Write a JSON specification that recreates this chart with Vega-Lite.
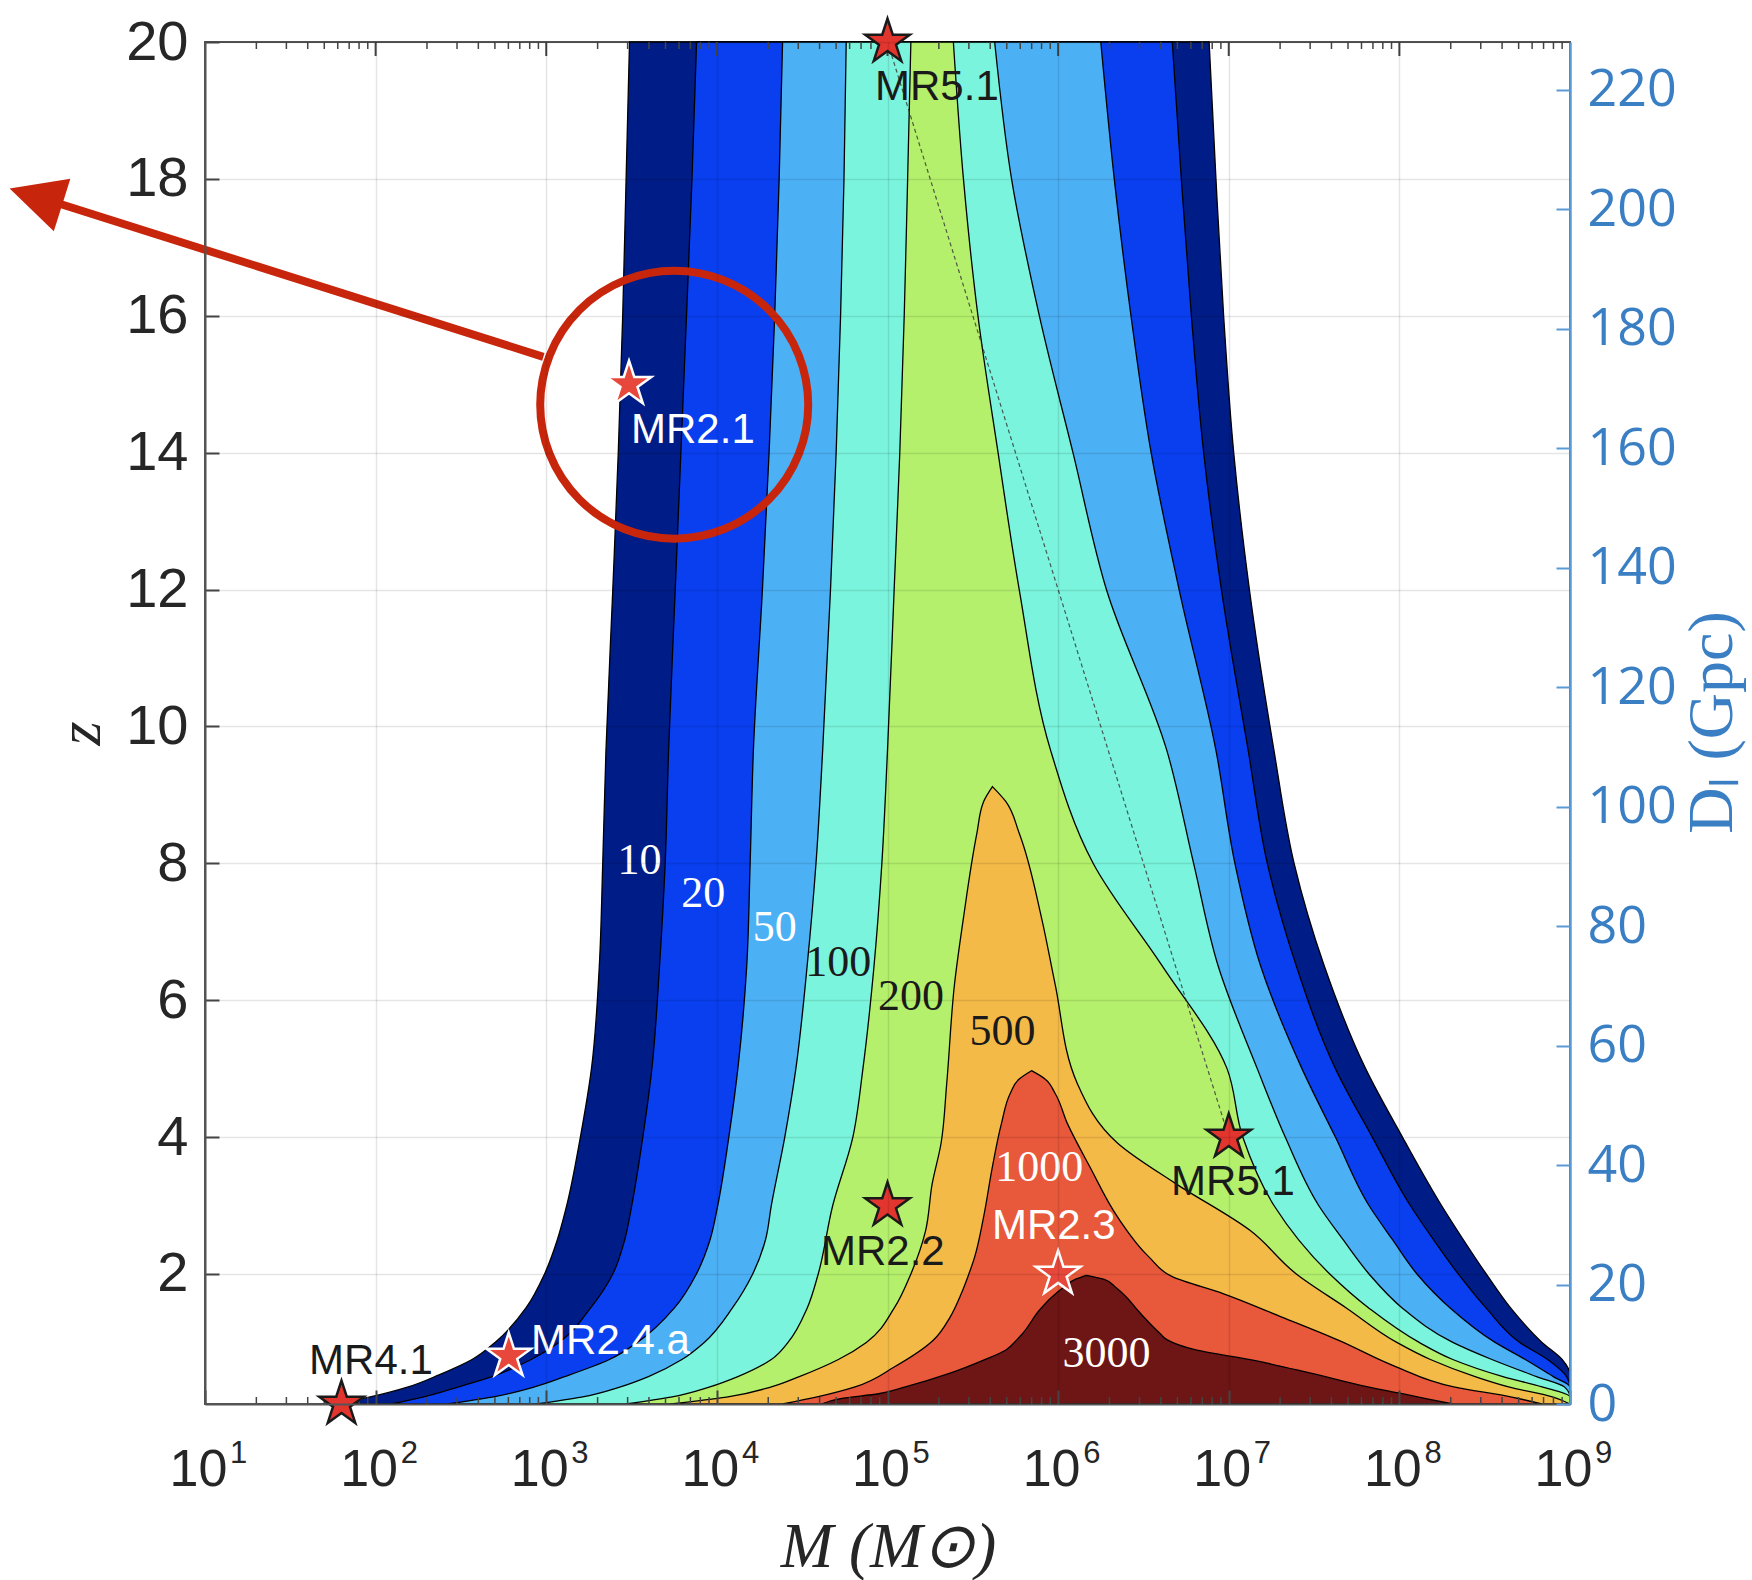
{
"$schema":"https://vega.github.io/schema/vega-lite/v6.json",
"width":1365,"height":1362,
"autosize":{"type":"none"},
"padding":{"left":205,"top":42,"right":182,"bottom":176},
"background":"#ffffff",
"config":{"font":"Liberation Sans","view":{"stroke":"#555555","strokeWidth":2}},
"datasets":{
"c10":[{"z":0.1,"lm":1.766,"lm2":9},{"z":0.2,"lm":1.962,"lm2":9},{"z":0.35,"lm":2.191,"lm2":9},{"z":0.53,"lm":2.375,"lm2":9},{"z":0.75,"lm":2.565,"lm2":8.954},{"z":1,"lm":2.70,"lm2":8.836},{"z":1.5,"lm":2.88,"lm2":8.653},{"z":2,"lm":2.99,"lm2":8.509},{"z":2.5,"lm":3.065,"lm2":8.375},{"z":3,"lm":3.12,"lm2":8.247},{"z":4,"lm":3.20,"lm2":8.018},{"z":5,"lm":3.265,"lm2":7.802},{"z":6.5,"lm":3.311,"lm2":7.560},{"z":8,"lm":3.331,"lm2":7.383},{"z":9.65,"lm":3.350,"lm2":7.265},{"z":12,"lm":3.390,"lm2":7.121},{"z":14,"lm":3.422,"lm2":7.029},{"z":16,"lm":3.448,"lm2":6.970},{"z":18,"lm":3.468,"lm2":6.925},{"z":20,"lm":3.488,"lm2":6.885}],
"c20":[{"z":0.1,"lm":2.093,"lm2":9},{"z":0.2,"lm":2.277,"lm2":9},{"z":0.35,"lm":2.486,"lm2":9},{"z":0.5,"lm":2.682,"lm2":8.980},{"z":0.75,"lm":2.912,"lm2":8.869},{"z":1,"lm":3.075,"lm2":8.705},{"z":1.5,"lm":3.259,"lm2":8.509},{"z":2,"lm":3.39,"lm2":8.345},{"z":2.5,"lm":3.46,"lm2":8.20},{"z":3,"lm":3.501,"lm2":8.064},{"z":4,"lm":3.566,"lm2":7.841},{"z":5,"lm":3.619,"lm2":7.625},{"z":6.5,"lm":3.664,"lm2":7.396},{"z":8,"lm":3.697,"lm2":7.226},{"z":9.65,"lm":3.717,"lm2":7.114},{"z":12,"lm":3.756,"lm2":6.957},{"z":14,"lm":3.789,"lm2":6.853},{"z":16,"lm":3.822,"lm2":6.781},{"z":18,"lm":3.854,"lm2":6.722},{"z":20,"lm":3.881,"lm2":6.669}],
"c50":[{"z":0.1,"lm":2.421,"lm2":9},{"z":0.2,"lm":2.682,"lm2":9},{"z":0.35,"lm":2.931,"lm2":9},{"z":0.5,"lm":3.108,"lm2":8.902},{"z":0.75,"lm":3.370,"lm2":8.738},{"z":1,"lm":3.534,"lm2":8.561},{"z":1.5,"lm":3.750,"lm2":8.299},{"z":2,"lm":3.88,"lm2":8.103},{"z":2.5,"lm":3.96,"lm2":7.96},{"z":3,"lm":4.005,"lm2":7.822},{"z":4,"lm":4.070,"lm2":7.625},{"z":5,"lm":4.123,"lm2":7.429},{"z":6.5,"lm":4.175,"lm2":7.187},{"z":8,"lm":4.195,"lm2":7.036},{"z":9.65,"lm":4.214,"lm2":6.925},{"z":12,"lm":4.267,"lm2":6.709},{"z":14,"lm":4.306,"lm2":6.545},{"z":16,"lm":4.339,"lm2":6.427},{"z":18,"lm":4.365,"lm2":6.329},{"z":20,"lm":4.385,"lm2":6.250}],
"c100":[{"z":0.1,"lm":2.944,"lm2":9},{"z":0.2,"lm":3.206,"lm2":9},{"z":0.35,"lm":3.435,"lm2":8.967},{"z":0.5,"lm":3.599,"lm2":8.804},{"z":0.75,"lm":3.795,"lm2":8.542},{"z":1,"lm":3.926,"lm2":8.313},{"z":1.5,"lm":4.090,"lm2":8.018},{"z":2,"lm":4.21,"lm2":7.822},{"z":2.5,"lm":4.285,"lm2":7.67},{"z":3,"lm":4.319,"lm2":7.527},{"z":4,"lm":4.398,"lm2":7.331},{"z":5,"lm":4.463,"lm2":7.167},{"z":6.5,"lm":4.529,"lm2":6.938},{"z":8,"lm":4.581,"lm2":6.794},{"z":9.65,"lm":4.620,"lm2":6.637},{"z":12,"lm":4.666,"lm2":6.283},{"z":14,"lm":4.699,"lm2":6.087},{"z":16,"lm":4.725,"lm2":5.890},{"z":18,"lm":4.745,"lm2":5.727},{"z":20,"lm":4.758,"lm2":5.628}],
"c200":[{"z":0.1,"lm":3.468,"lm2":9},{"z":0.2,"lm":3.730,"lm2":9},{"z":0.35,"lm":3.959,"lm2":8.836},{"z":0.5,"lm":4.123,"lm2":8.607},{"z":0.75,"lm":4.319,"lm2":8.313},{"z":1,"lm":4.417,"lm2":8.116},{"z":1.5,"lm":4.529,"lm2":7.822},{"z":2,"lm":4.594,"lm2":7.592},{"z":3,"lm":4.679,"lm2":7.265},{"z":4,"lm":4.797,"lm2":7.082},{"z":5,"lm":4.856,"lm2":6.990},{"z":6.5,"lm":4.921,"lm2":6.610},{"z":8,"lm":4.967,"lm2":6.205},{"z":9.65,"lm":5.000,"lm2":5.956},{"z":12,"lm":5.039,"lm2":5.772},{"z":14,"lm":5.072,"lm2":5.648},{"z":16,"lm":5.098,"lm2":5.530},{"z":18,"lm":5.118,"lm2":5.445},{"z":20,"lm":5.137,"lm2":5.386}],
"c500":[{"z":0.1,"lm":3.730,"lm2":9},{"z":0.2,"lm":4.057,"lm2":8.902},{"z":0.35,"lm":4.319,"lm2":8.640},{"z":0.5,"lm":4.483,"lm2":8.444},{"z":0.75,"lm":4.712,"lm2":8.182},{"z":1,"lm":4.876,"lm2":7.985},{"z":1.5,"lm":5.039,"lm2":7.691},{"z":2,"lm":5.137,"lm2":7.396},{"z":2.63,"lm":5.223,"lm2":7.128},{"z":3.32,"lm":5.262,"lm2":6.689},{"z":3.91,"lm":5.314,"lm2":6.349},{"z":4.78,"lm":5.347,"lm2":6.113},{"z":6.24,"lm":5.393,"lm2":5.982},{"z":7.2,"lm":5.445,"lm2":5.903},{"z":8.44,"lm":5.524,"lm2":5.772},{"z":8.9,"lm":5.563,"lm2":5.694},{"z":9.12,"lm":5.615,"lm2":5.615}],
"c1000":[{"z":0.1,"lm":4.385,"lm2":8.836},{"z":0.2,"lm":4.581,"lm2":8.659},{"z":0.35,"lm":4.810,"lm2":8.319},{"z":0.64,"lm":5.039,"lm2":7.985},{"z":1.03,"lm":5.268,"lm2":7.645},{"z":1.37,"lm":5.367,"lm2":7.311},{"z":1.71,"lm":5.432,"lm2":6.970},{"z":1.96,"lm":5.471,"lm2":6.669},{"z":2.25,"lm":5.511,"lm2":6.532},{"z":2.83,"lm":5.563,"lm2":6.349},{"z":3.57,"lm":5.615,"lm2":6.185},{"z":4.2,"lm":5.668,"lm2":6.054},{"z":4.64,"lm":5.720,"lm2":5.982},{"z":4.85,"lm":5.772,"lm2":5.923},{"z":4.97,"lm":5.844,"lm2":5.844}],
"c3000":[{"z":0.1,"lm":4.614,"lm2":8.313},{"z":0.18,"lm":4.725,"lm2":8.155},{"z":0.25,"lm":4.948,"lm2":8.018},{"z":0.35,"lm":5.105,"lm2":7.815},{"z":0.55,"lm":5.367,"lm2":7.481},{"z":0.74,"lm":5.563,"lm2":7.141},{"z":0.89,"lm":5.694,"lm2":6.807},{"z":1.04,"lm":5.759,"lm2":6.637},{"z":1.13,"lm":5.792,"lm2":6.597},{"z":1.47,"lm":5.890,"lm2":6.466},{"z":1.66,"lm":5.962,"lm2":6.401},{"z":1.81,"lm":6.034,"lm2":6.335},{"z":1.92,"lm":6.100,"lm2":6.270},{"z":1.98,"lm":6.165,"lm2":6.165}],
"minor":[{"lm":1.301,"zb":0.1,"zt":20},{"lm":1.477,"zb":0.1,"zt":20},{"lm":1.602,"zb":0.1,"zt":20},{"lm":1.699,"zb":0.1,"zt":20},{"lm":1.778,"zb":0.1,"zt":20},{"lm":1.845,"zb":0.1,"zt":20},{"lm":1.903,"zb":0.1,"zt":20},{"lm":1.954,"zb":0.1,"zt":20},{"lm":2.301,"zb":0.1,"zt":20},{"lm":2.477,"zb":0.1,"zt":20},{"lm":2.602,"zb":0.1,"zt":20},{"lm":2.699,"zb":0.1,"zt":20},{"lm":2.778,"zb":0.1,"zt":20},{"lm":2.845,"zb":0.1,"zt":20},{"lm":2.903,"zb":0.1,"zt":20},{"lm":2.954,"zb":0.1,"zt":20},{"lm":3.301,"zb":0.1,"zt":20},{"lm":3.477,"zb":0.1,"zt":20},{"lm":3.602,"zb":0.1,"zt":20},{"lm":3.699,"zb":0.1,"zt":20},{"lm":3.778,"zb":0.1,"zt":20},{"lm":3.845,"zb":0.1,"zt":20},{"lm":3.903,"zb":0.1,"zt":20},{"lm":3.954,"zb":0.1,"zt":20},{"lm":4.301,"zb":0.1,"zt":20},{"lm":4.477,"zb":0.1,"zt":20},{"lm":4.602,"zb":0.1,"zt":20},{"lm":4.699,"zb":0.1,"zt":20},{"lm":4.778,"zb":0.1,"zt":20},{"lm":4.845,"zb":0.1,"zt":20},{"lm":4.903,"zb":0.1,"zt":20},{"lm":4.954,"zb":0.1,"zt":20},{"lm":5.301,"zb":0.1,"zt":20},{"lm":5.477,"zb":0.1,"zt":20},{"lm":5.602,"zb":0.1,"zt":20},{"lm":5.699,"zb":0.1,"zt":20},{"lm":5.778,"zb":0.1,"zt":20},{"lm":5.845,"zb":0.1,"zt":20},{"lm":5.903,"zb":0.1,"zt":20},{"lm":5.954,"zb":0.1,"zt":20},{"lm":6.301,"zb":0.1,"zt":20},{"lm":6.477,"zb":0.1,"zt":20},{"lm":6.602,"zb":0.1,"zt":20},{"lm":6.699,"zb":0.1,"zt":20},{"lm":6.778,"zb":0.1,"zt":20},{"lm":6.845,"zb":0.1,"zt":20},{"lm":6.903,"zb":0.1,"zt":20},{"lm":6.954,"zb":0.1,"zt":20},{"lm":7.301,"zb":0.1,"zt":20},{"lm":7.477,"zb":0.1,"zt":20},{"lm":7.602,"zb":0.1,"zt":20},{"lm":7.699,"zb":0.1,"zt":20},{"lm":7.778,"zb":0.1,"zt":20},{"lm":7.845,"zb":0.1,"zt":20},{"lm":7.903,"zb":0.1,"zt":20},{"lm":7.954,"zb":0.1,"zt":20},{"lm":8.301,"zb":0.1,"zt":20},{"lm":8.477,"zb":0.1,"zt":20},{"lm":8.602,"zb":0.1,"zt":20},{"lm":8.699,"zb":0.1,"zt":20},{"lm":8.778,"zb":0.1,"zt":20},{"lm":8.845,"zb":0.1,"zt":20},{"lm":8.903,"zb":0.1,"zt":20},{"lm":8.954,"zb":0.1,"zt":20}],
"major":[{"lm":2,"zt":20},{"lm":3,"zt":20},{"lm":4,"zt":20},{"lm":5,"zt":20},{"lm":6,"zt":20},{"lm":7,"zt":20},{"lm":8,"zt":20}],
"exps":[{"lm":1,"zb":0.1,"e":"1"},{"lm":2,"zb":0.1,"e":"2"},{"lm":3,"zb":0.1,"e":"3"},{"lm":4,"zb":0.1,"e":"4"},{"lm":5,"zb":0.1,"e":"5"},{"lm":6,"zb":0.1,"e":"6"},{"lm":7,"zb":0.1,"e":"7"},{"lm":8,"zb":0.1,"e":"8"},{"lm":9,"zb":0.1,"e":"9"}],
"track":[{"lm":5,"z":20,"lm2":7,"z2":4}],
"clabDark":[{"t":"100","lm":4.712,"z":6.54},{"t":"200","lm":5.137,"z":6.05},{"t":"500","lm":5.674,"z":5.54}],
"clabLight":[{"t":"10","lm":3.547,"z":8.04},{"t":"20","lm":3.920,"z":7.55},{"t":"50","lm":4.339,"z":7.06},{"t":"1000","lm":5.890,"z":3.55},{"t":"3000","lm":6.283,"z":0.83}],
"starsDark":[{"name":"MR5.1","lm":5,"z":20},{"name":"MR5.1","lm":7,"z":4},{"name":"MR2.2","lm":5,"z":3},{"name":"MR4.1","lm":1.8,"z":0.1}],
"starsLight":[{"name":"MR2.1","lm":3.485,"z":15},{"name":"MR2.3","lm":6,"z":2},{"name":"MR2.4.a","lm":2.78,"z":0.8}],
"labDark":[{"t":"MR5.1","lm":4.927,"z":19.34},{"t":"MR5.1","lm":6.662,"z":3.34},{"t":"MR2.2","lm":4.61,"z":2.32},{"t":"MR4.1","lm":1.61,"z":0.73}],
"labLight":[{"t":"MR2.1","lm":3.497,"z":14.33},{"t":"MR2.3","lm":5.612,"z":2.7},{"t":"MR2.4.a","lm":2.911,"z":1.02}],
"ring":[{"lm":3.75,"z":14.7}],
"arrowShaft":[{"lm":2.983,"z":15.4,"lm2":0.106,"z2":17.67}],
"arrowHead":[{"lm":-0.145,"z":17.86}]
},
"layer":[
{
"encoding":{
"x":{"field":"lm","type":"quantitative","scale":{"domain":[1,9],"nice":false,"zero":false},
"axis":{"values":[1,2,3,4,5,6,7,8,9],"labelExpr":"'10'","labelOffset":-7,"labelFont":"Liberation Sans","labelFontSize":52,"labelColor":"#262626","labelFlush":false,"labelOverlap":false,"labelPadding":54,"tickSize":-14,"tickColor":"#444444","tickWidth":2,"domainColor":"#555555","domainWidth":2,"grid":true,"gridColor":"#000000","gridOpacity":0.1,"gridWidth":1.5,"title":"M  (M⊙)","titleFont":"Liberation Serif","titleFontStyle":"italic","titleFontWeight":"normal","titleFontSize":63,"titleColor":"#262626","titleX":683,"titleY":143,"titleBaseline":"middle","titleAlign":"center","zindex":1}},
"y":{"field":"z","type":"quantitative","scale":{"domain":[0.1,20],"nice":false,"zero":false},
"axis":{"values":[2,4,6,8,10,12,14,16,18,20],"labelFont":"Liberation Sans","labelFontSize":56,"labelColor":"#262626","labelFlush":false,"labelOverlap":false,"labelPadding":31,"tickSize":-14,"tickColor":"#444444","tickWidth":2,"domainColor":"#555555","domainWidth":2,"grid":true,"gridColor":"#000000","gridOpacity":0.1,"gridWidth":1.5,"title":"z","titleFont":"Liberation Serif","titleFontStyle":"italic","titleFontWeight":"normal","titleFontSize":62,"titleColor":"#262626","titleAngle":270,"titleX":-125,"titleY":691,"titleBaseline":"middle","titleAlign":"center","zindex":1}}
},
"layer":[
{"data":{"name":"c10"},"mark":{"type":"area","orient":"horizontal","interpolate":"monotone","color":"#001c86","stroke":"#000000","strokeWidth":1.3,"opacity":1},"encoding":{"x2":{"field":"lm2"}}},
{"data":{"name":"c20"},"mark":{"type":"area","orient":"horizontal","interpolate":"monotone","color":"#0a3ff0","stroke":"#000000","strokeWidth":1.3,"opacity":1},"encoding":{"x2":{"field":"lm2"}}},
{"data":{"name":"c50"},"mark":{"type":"area","orient":"horizontal","interpolate":"monotone","color":"#4cb0f4","stroke":"#000000","strokeWidth":1.3,"opacity":1},"encoding":{"x2":{"field":"lm2"}}},
{"data":{"name":"c100"},"mark":{"type":"area","orient":"horizontal","interpolate":"monotone","color":"#7af4dc","stroke":"#000000","strokeWidth":1.3,"opacity":1},"encoding":{"x2":{"field":"lm2"}}},
{"data":{"name":"c200"},"mark":{"type":"area","orient":"horizontal","interpolate":"monotone","color":"#b5f06c","stroke":"#000000","strokeWidth":1.3,"opacity":1},"encoding":{"x2":{"field":"lm2"}}},
{"data":{"name":"c500"},"mark":{"type":"area","orient":"horizontal","interpolate":"monotone","color":"#f4ba48","stroke":"#000000","strokeWidth":1.3,"opacity":1},"encoding":{"x2":{"field":"lm2"}}},
{"data":{"name":"c1000"},"mark":{"type":"area","orient":"horizontal","interpolate":"monotone","color":"#e8583a","stroke":"#000000","strokeWidth":1.3,"opacity":1},"encoding":{"x2":{"field":"lm2"}}},
{"data":{"name":"c3000"},"mark":{"type":"area","orient":"horizontal","interpolate":"monotone","color":"#6e1515","stroke":"#000000","strokeWidth":1.3,"opacity":1},"encoding":{"x2":{"field":"lm2"}}},
{"data":{"name":"minor"},"mark":{"type":"tick","orient":"vertical","color":"#444444","thickness":1.5,"size":7,"yOffset":-3.5,"opacity":1},"encoding":{"y":{"field":"zb","type":"quantitative"}}},
{"data":{"name":"minor"},"mark":{"type":"tick","orient":"vertical","color":"#444444","thickness":1.5,"size":7,"yOffset":3.5,"opacity":1},"encoding":{"y":{"field":"zt","type":"quantitative"}}},
{"data":{"name":"major"},"mark":{"type":"tick","orient":"vertical","color":"#444444","thickness":2,"size":14,"yOffset":7,"opacity":1},"encoding":{"y":{"field":"zt","type":"quantitative"}}},
{"data":{"name":"exps"},"mark":{"type":"text","font":"Liberation Sans","fontSize":31,"align":"left","baseline":"top","dx":25,"dy":35,"color":"#262626"},"encoding":{"y":{"field":"zb","type":"quantitative"},"text":{"field":"e"}}},
{"data":{"name":"track"},"mark":{"type":"rule","color":"#333333","strokeWidth":1.2,"strokeDash":[4,3],"opacity":0.8},"encoding":{"x2":{"field":"lm2"},"y2":{"field":"z2"}}},
{"data":{"name":"clabDark"},"mark":{"type":"text","font":"Liberation Serif","fontSize":44,"align":"center","baseline":"middle","color":"#1a1a1a"},"encoding":{"text":{"field":"t"}}},
{"data":{"name":"clabLight"},"mark":{"type":"text","font":"Liberation Serif","fontSize":44,"align":"center","baseline":"middle","color":"#ffffff"},"encoding":{"text":{"field":"t"}}},
{"data":{"name":"starsDark"},"mark":{"type":"point","shape":"M0,-1L0.2245,-0.309L0.9511,-0.309L0.3633,0.118L0.5878,0.809L0,0.382L-0.5878,0.809L-0.3633,0.118L-0.9511,-0.309L-0.2245,-0.309Z","filled":true,"fill":"#e2352e","stroke":"#1a1a1a","strokeWidth":2.5,"size":2200,"opacity":1,"fillOpacity":1},"encoding":{}},
{"data":{"name":"starsLight"},"mark":{"type":"point","shape":"M0,-1L0.2245,-0.309L0.9511,-0.309L0.3633,0.118L0.5878,0.809L0,0.382L-0.5878,0.809L-0.3633,0.118L-0.9511,-0.309L-0.2245,-0.309Z","filled":true,"fill":"#e8483c","stroke":"#ffffff","strokeWidth":2.5,"size":2200,"opacity":1,"fillOpacity":1},"encoding":{}},
{"data":{"name":"labDark"},"mark":{"type":"text","font":"Liberation Sans","fontSize":42,"align":"left","baseline":"middle","color":"#1a1a1a"},"encoding":{"text":{"field":"t"}}},
{"data":{"name":"labLight"},"mark":{"type":"text","font":"Liberation Sans","fontSize":42,"align":"left","baseline":"middle","color":"#ffffff"},"encoding":{"text":{"field":"t"}}},
{"data":{"name":"ring"},"mark":{"type":"point","shape":"circle","filled":false,"stroke":"#c8260c","strokeWidth":8,"size":71824,"opacity":1},"encoding":{}},
{"data":{"name":"arrowShaft"},"mark":{"type":"rule","color":"#c8260c","strokeWidth":8,"strokeCap":"butt"},"encoding":{"x2":{"field":"lm2"},"y2":{"field":"z2"}}},
{"data":{"name":"arrowHead"},"mark":{"type":"point","shape":"M0,0L-1,2L1,2Z","filled":true,"fill":"#c8260c","strokeWidth":0,"size":3025,"angle":287.5,"opacity":1,"fillOpacity":1},"encoding":{}}
]
},
{"data":{"values":[{"Dl":0},{"Dl":228}]},"mark":{"type":"point","opacity":0},
"encoding":{"y":{"field":"Dl","type":"quantitative","scale":{"domain":[0,228],"nice":false,"zero":true},
"axis":{"orient":"right","values":[0,20,40,60,80,100,120,140,160,180,200,220],"labelFont":"Open Sans","labelFontSize":52,"labelColor":"#3a7fc4","labelFlush":false,"labelOverlap":false,"labelPadding":31,"tickSize":-14,"tickColor":"#5b9bd5","tickWidth":2,"domainColor":"#5b9bd5","domainWidth":2.5,"grid":false,"title":"Dₗ (Gpc)","titleFont":"Liberation Serif","titleFontWeight":"normal","titleFontSize":64,"titleColor":"#3a7fc4","titleAngle":270,"titleX":142,"titleY":680,"titleBaseline":"middle","titleAlign":"center","zindex":1}}}}
],
"resolve":{"scale":{"y":"independent"}}
}
